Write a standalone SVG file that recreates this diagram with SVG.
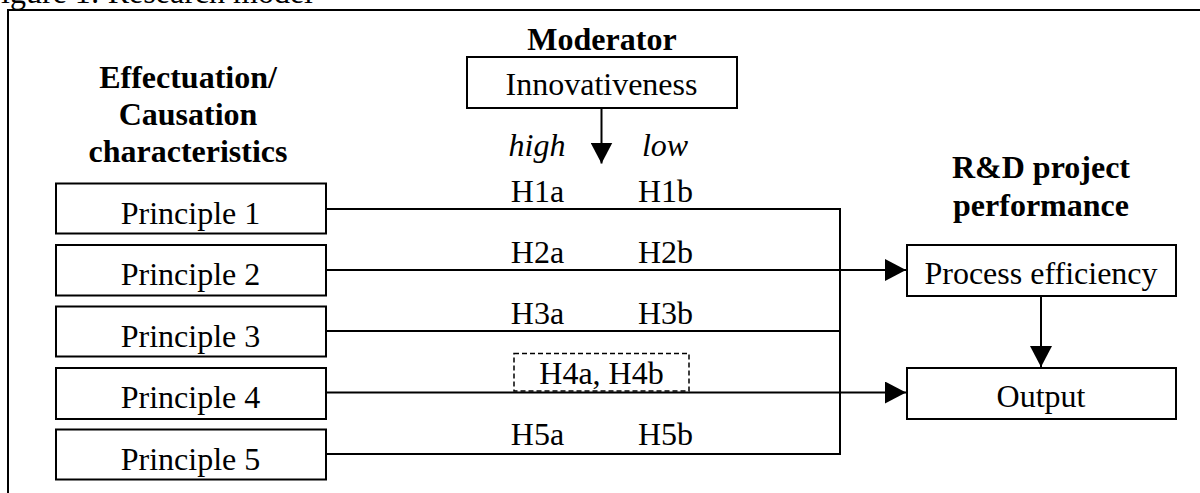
<svg xmlns="http://www.w3.org/2000/svg" width="1200" height="493" viewBox="0 0 1200 493">
<style>
text{font-family:"Liberation Serif","Times New Roman",serif;font-size:32px;fill:#000}
.b{font-weight:bold}
.i{font-style:italic}
.c{text-anchor:middle}
.box{fill:#fff;stroke:#000;stroke-width:2}
.ln{fill:none;stroke:#000;stroke-width:2}
.dash{fill:none;stroke:#000;stroke-width:1.5;stroke-dasharray:5,3}
</style>
<defs>
<marker id="ah" markerUnits="userSpaceOnUse" markerWidth="21" markerHeight="22" refX="21" refY="11" orient="auto" viewBox="0 0 21 22">
<path d="M0,0 L21,11 L0,22 Z" fill="#000"/>
</marker>
</defs>
<g id="frame">
<text x="313" y="3" style="text-anchor:end">Figure 1: Research model</text>
<path class="ln" d="M8,493 V10 H1200"/>
</g>
<g id="headings">
<text class="b c" x="188" y="88">Effectuation/</text>
<text class="b c" x="188" y="125">Causation</text>
<text class="b c" x="188" y="162">characteristics</text>
<text class="b c" x="602" y="50">Moderator</text>
<text class="b c" x="1041" y="178">R&amp;D project</text>
<text class="b c" x="1041" y="216">performance</text>
</g>
<g id="connectors">
<line class="ln" x1="326" y1="209" x2="840" y2="209"/>
<line class="ln" x1="326" y1="270" x2="906" y2="270" marker-end="url(#ah)"/>
<line class="ln" x1="326" y1="331" x2="840" y2="331"/>
<line class="ln" x1="326" y1="392.5" x2="906" y2="392.5" marker-end="url(#ah)"/>
<line class="ln" x1="326" y1="454" x2="840" y2="454"/>
<line class="ln" x1="840" y1="208" x2="840" y2="455"/>
<line class="ln" x1="601.5" y1="108" x2="601.5" y2="163.5" marker-end="url(#ah)"/>
<line class="ln" x1="1041" y1="296" x2="1041" y2="367" marker-end="url(#ah)"/>
</g>
<g id="innovativeness">
<rect class="box" x="467" y="57" width="270" height="51"/>
<text class="c" x="601.5" y="95">Innovativeness</text>
</g>
<g id="moderator-labels">
<text class="i c" x="537" y="156">high</text>
<text class="i c" x="665" y="156">low</text>
</g>
<g id="hypotheses">
<text class="c" x="537.5" y="201.5">H1a</text>
<text class="c" x="665.5" y="201.5">H1b</text>
<text class="c" x="537.5" y="262.7">H2a</text>
<text class="c" x="665.5" y="262.7">H2b</text>
<text class="c" x="537.5" y="323.5">H3a</text>
<text class="c" x="665.5" y="323.5">H3b</text>
<text class="c" x="537.5" y="445">H5a</text>
<text class="c" x="665.5" y="445">H5b</text>
</g>
<g id="h4">
<rect class="dash" x="514" y="353.5" width="175" height="37.5"/>
<text class="c" x="601.5" y="383.5">H4a, H4b</text>
</g>
<g id="principle1">
<rect class="box" x="56" y="183.5" width="270" height="50"/>
<text class="c" x="190.5" y="223.5">Principle 1</text>
</g>
<g id="principle2">
<rect class="box" x="56" y="245" width="270" height="50.5"/>
<text class="c" x="190.5" y="285">Principle 2</text>
</g>
<g id="principle3">
<rect class="box" x="56" y="306.5" width="270" height="50"/>
<text class="c" x="190.5" y="346.5">Principle 3</text>
</g>
<g id="principle4">
<rect class="box" x="56" y="368" width="270" height="51"/>
<text class="c" x="190.5" y="408">Principle 4</text>
</g>
<g id="principle5">
<rect class="box" x="56" y="429.5" width="270" height="50"/>
<text class="c" x="190.5" y="469.5">Principle 5</text>
</g>
<g id="process-efficiency">
<rect class="box" x="907" y="245" width="269" height="51"/>
<text class="c" x="1041" y="283.5">Process efficiency</text>
</g>
<g id="output">
<rect class="box" x="907" y="368" width="269" height="51"/>
<text class="c" x="1041" y="407">Output</text>
</g>
</svg>
